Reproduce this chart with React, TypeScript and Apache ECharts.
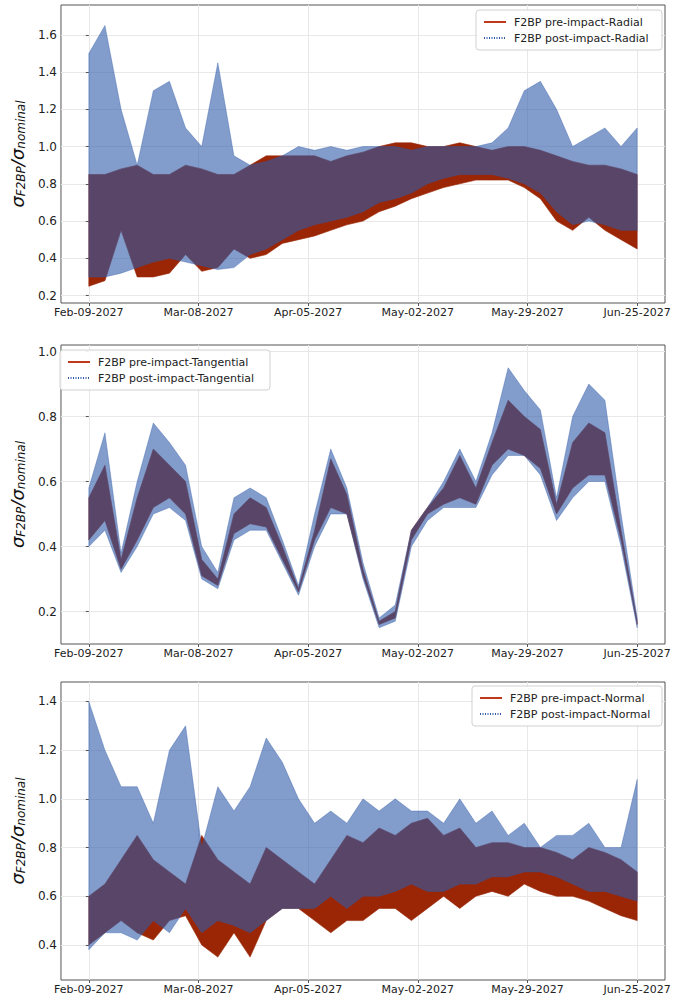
import React, { useEffect, useRef } from "react";
import * as echarts from "echarts";

const days = [0,4,8,12,16,20,24,28,32,36,40,44,48,52,56,60,64,68,72,76,80,84,88,92,96,100,104,108,112,116,120,124,128,132,136];
const dateLabels = ["Feb-09-2027","Mar-08-2027","Apr-05-2027","May-02-2027","May-29-2027","Jun-25-2027"];
const dateTicks = [0,27.2,54.4,81.6,108.8,136];

// Panel 1: Radial
const radPostUp = [1.5,1.65,1.2,0.9,1.3,1.35,1.1,1.0,1.45,0.95,0.9,0.92,0.95,1.0,0.98,1.0,0.98,1.0,1.0,1.0,0.98,1.0,1.0,1.0,1.0,1.02,1.1,1.3,1.35,1.2,1.0,1.05,1.1,1.0,1.1];
const radPostLow = [0.3,0.3,0.32,0.35,0.38,0.4,0.38,0.36,0.34,0.35,0.42,0.45,0.5,0.55,0.58,0.6,0.62,0.65,0.7,0.72,0.75,0.8,0.83,0.85,0.85,0.85,0.83,0.8,0.75,0.65,0.58,0.6,0.58,0.55,0.55];
const radPreUp = [0.85,0.85,0.88,0.9,0.85,0.85,0.9,0.88,0.85,0.85,0.9,0.95,0.95,0.95,0.95,0.92,0.95,0.97,1.0,1.02,1.02,1.0,1.0,1.02,1.0,0.98,1.0,1.0,0.98,0.95,0.92,0.9,0.9,0.88,0.85];
const radPreLow = [0.25,0.28,0.55,0.3,0.3,0.32,0.42,0.33,0.35,0.45,0.4,0.42,0.48,0.5,0.52,0.55,0.58,0.6,0.65,0.68,0.72,0.75,0.78,0.8,0.82,0.82,0.82,0.78,0.72,0.6,0.55,0.62,0.55,0.5,0.45];

// Panel 2: Tangential
const tanPostUp = [0.58,0.75,0.38,0.6,0.78,0.72,0.65,0.4,0.32,0.55,0.58,0.55,0.42,0.28,0.5,0.7,0.58,0.35,0.18,0.22,0.45,0.52,0.6,0.7,0.6,0.75,0.95,0.88,0.82,0.55,0.8,0.9,0.85,0.5,0.18];
const tanPostLow = [0.4,0.45,0.32,0.4,0.5,0.52,0.48,0.3,0.27,0.42,0.45,0.45,0.35,0.25,0.4,0.5,0.5,0.3,0.15,0.17,0.4,0.48,0.52,0.52,0.52,0.62,0.68,0.68,0.62,0.48,0.55,0.6,0.6,0.4,0.15];
const tanPreUp = [0.55,0.65,0.36,0.55,0.7,0.65,0.6,0.36,0.3,0.5,0.55,0.52,0.4,0.27,0.45,0.67,0.56,0.33,0.17,0.2,0.45,0.52,0.58,0.68,0.58,0.72,0.85,0.8,0.76,0.53,0.72,0.78,0.75,0.45,0.17];
const tanPreLow = [0.42,0.48,0.33,0.42,0.52,0.55,0.5,0.31,0.28,0.44,0.47,0.46,0.36,0.26,0.42,0.52,0.5,0.31,0.16,0.18,0.42,0.5,0.53,0.55,0.53,0.65,0.7,0.68,0.64,0.5,0.58,0.62,0.62,0.42,0.16];

// Panel 3: Normal
const norPostUp = [1.4,1.2,1.05,1.05,0.9,1.2,1.3,0.8,1.05,0.95,1.05,1.25,1.15,1.0,0.9,0.95,0.9,1.0,0.95,1.0,0.95,0.95,0.9,1.0,0.9,0.95,0.85,0.9,0.8,0.85,0.85,0.9,0.8,0.8,1.08];
const norPostLow = [0.38,0.45,0.45,0.42,0.5,0.45,0.55,0.45,0.5,0.48,0.45,0.5,0.55,0.55,0.55,0.6,0.55,0.6,0.6,0.62,0.65,0.62,0.62,0.65,0.65,0.68,0.68,0.7,0.7,0.68,0.65,0.62,0.62,0.6,0.58];
const norPreUp = [0.6,0.65,0.75,0.85,0.75,0.7,0.65,0.85,0.75,0.7,0.65,0.8,0.75,0.7,0.65,0.75,0.85,0.82,0.88,0.85,0.9,0.92,0.85,0.88,0.8,0.82,0.82,0.8,0.8,0.78,0.75,0.8,0.78,0.75,0.7];
const norPreLow = [0.4,0.45,0.5,0.45,0.42,0.5,0.52,0.4,0.35,0.45,0.35,0.5,0.55,0.55,0.5,0.45,0.5,0.5,0.55,0.55,0.5,0.55,0.6,0.55,0.6,0.62,0.6,0.65,0.62,0.6,0.6,0.58,0.55,0.52,0.5];

const RED = "#9a2606";
const BLUE = "#2f5aa8";

function band(idx: number, low: number[], up: number[], color: string, opacity: number) {
  const data = days.map((d, i) => [d, low[i], up[i]]);
  return {
    type: "custom", xAxisIndex: idx, yAxisIndex: idx, silent: true, clip: true,
    data,
    encode: { x: 0, y: [1, 2] },
    renderItem: (params: any, api: any) => {
      if (params.dataIndex !== 0) return null;
      const top = data.map(p => api.coord([p[0], p[2]]));
      const bot = data.map(p => api.coord([p[0], p[1]])).reverse();
      return {
        type: "polygon",
        shape: { points: top.concat(bot) },
        style: { fill: color, opacity, stroke: color, lineWidth: 0.6 },
      };
    },
  };
}

export default function App() {
  const ref = useRef<HTMLDivElement>(null);
  useEffect(() => {
    const chart = echarts.init(ref.current!, undefined, { renderer: "svg" });
    const grids = [
      { left: 55, width: 610, top: 5, height: 298 },
      { left: 55, width: 610, top: 345, height: 299 },
      { left: 55, width: 610, top: 682, height: 298 },
    ].map(g => ({ ...g, show: true, borderColor: "#555", borderWidth: 1 }));
    const yr = [
      { min: 0.16, max: 1.76 },
      { min: 0.1, max: 1.02 },
      { min: 0.256, max: 1.48 },
    ];
    const yTicks = [[0.2,0.4,0.6,0.8,1.0,1.2,1.4,1.6],[0.2,0.4,0.6,0.8,1.0],[0.4,0.6,0.8,1.0,1.2,1.4]];
    const xAxis = grids.map((_, i) => ({
      type: "value", gridIndex: i, min: -6.9, max: 142.9,
      axisLine: { show: false },
      axisTick: { show: true, length: 3, customValues: dateTicks, lineStyle: { color: "#555" } },
      splitLine: { show: true, lineStyle: { color: "#e8e8e8" } },
      axisLabel: { color: "#222", fontSize: 11, fontFamily: "DejaVu Sans", margin: 4, customValues: dateTicks,
        formatter: (v: number) => dateLabels[dateTicks.indexOf(v)] ?? "" },
    }));
    const yAxis = grids.map((_, i) => ({
      type: "value", gridIndex: i, min: yr[i].min, max: yr[i].max,
      axisLine: { show: false },
      axisTick: { show: true, length: 3, customValues: yTicks[i], lineStyle: { color: "#555" } },
      splitLine: { show: true, lineStyle: { color: "#e8e8e8" } },
      axisLabel: { color: "#222", fontSize: 12, fontFamily: "DejaVu Sans", margin: 4, customValues: yTicks[i],
        formatter: (v: number) => v.toFixed(1) },
      name: "σ{s|F2BP}/σ{s|nominal}", nameLocation: "middle", nameRotate: 90, nameGap: 32,
      nameTextStyle: { fontSize: 18, color: "#111", fontFamily: "DejaVu Sans", fontStyle: "italic",
        rich: { s: { fontSize: 12, fontStyle: "italic", verticalAlign: "bottom", padding: [8, 0, 0, 0] } } },
    }));
    const series: any[] = [
      band(0, radPreLow, radPreUp, RED, 1),
      band(0, radPostLow, radPostUp, BLUE, 0.6),
      band(1, tanPreLow, tanPreUp, RED, 1),
      band(1, tanPostLow, tanPostUp, BLUE, 0.6),
      band(2, norPreLow, norPreUp, RED, 1),
      band(2, norPostLow, norPostUp, BLUE, 0.6),
    ];
    const legend = (x: number, y: number, w: number, t1: string, t2: string) => ({
      type: "group", x, y, z: 100, children: [
        { type: "rect", z: 100, shape: { x: 0, y: 0, width: w, height: 40, r: 3 }, style: { fill: "#fff", stroke: "#ccc", opacity: 0.9 } },
        { type: "line", z: 101, shape: { x1: 8, y1: 12, x2: 30, y2: 12 }, style: { stroke: "#c0391b", lineWidth: 2 } },
        { type: "line", z: 101, shape: { x1: 8, y1: 28, x2: 30, y2: 28 }, style: { stroke: BLUE, lineWidth: 2, lineDash: [1, 1.5] } },
        { type: "text", z: 101, x: 38, y: 12, style: { text: t1, fontSize: 11, fill: "#222", fontFamily: "DejaVu Sans", verticalAlign: "middle" } },
        { type: "text", z: 101, x: 38, y: 28, style: { text: t2, fontSize: 11, fill: "#222", fontFamily: "DejaVu Sans", verticalAlign: "middle" } },
      ],
    });
    chart.setOption({
      animation: false,
      grid: grids, xAxis, yAxis, series,
      graphic: [
        legend(476, 10, 186, "F2BP pre-impact-Radial", "F2BP post-impact-Radial"),
        legend(60, 350, 210, "F2BP pre-impact-Tangential", "F2BP post-impact-Tangential"),
        legend(472, 686, 190, "F2BP pre-impact-Normal", "F2BP post-impact-Normal"),
      ],
    });
    return () => chart.dispose();
  }, []);
  return <div ref={ref} style={{ width: 686, height: 998, position: "absolute", left: 0, top: 0 }} />;
}
